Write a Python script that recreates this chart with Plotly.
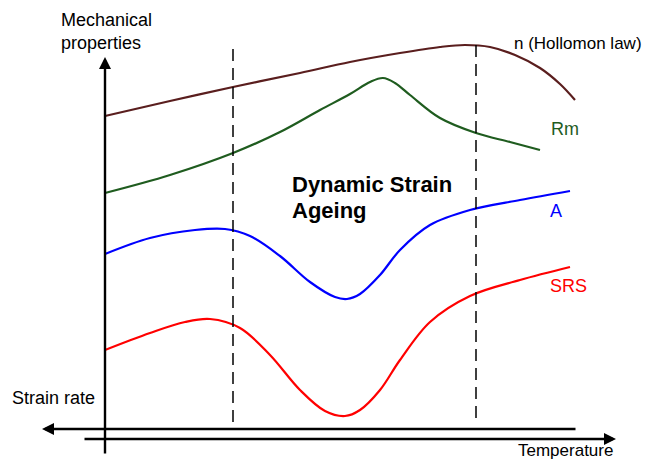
import plotly.graph_objects as go

# Schematic values (temperature position, property level)
n_x = [105, 170, 233, 300, 350, 400, 440, 465, 490, 515, 540, 560, 575]
n_y = [116, 101, 87, 73, 62, 53, 47, 45, 47, 55, 68, 84, 100]

rm_x = [105, 170, 233, 280, 320, 350, 370, 383, 395, 410, 440, 476, 510, 540]
rm_y = [193, 175, 153, 132, 110, 94, 82, 78, 83, 95, 118, 133, 142, 150]

a_x = [105, 150, 195, 225, 250, 280, 310, 335, 347, 360, 380, 400, 430, 470, 520, 570]
a_y = [254, 238, 230, 229, 236, 256, 282, 297, 299, 294, 275, 250, 225, 210, 200, 191]

srs_x = [105, 150, 185, 210, 240, 270, 300, 325, 345, 360, 380, 400, 430, 470, 520, 570]
srs_y = [350, 333, 322, 319, 328, 355, 390, 411, 416, 410, 390, 360, 322, 296, 280, 267]

dash_x = [233, 476]

fig = go.Figure()

line_w = 2.2
for xs, ys, col in [(n_x, n_y, "#5a1e1e"), (rm_x, rm_y, "#1f5c1f"),
                    (a_x, a_y, "#0000ff"), (srs_x, srs_y, "#ff0000")]:
    fig.add_trace(go.Scatter(x=xs, y=ys, mode="lines",
                             line=dict(color=col, width=line_w, shape="spline", smoothing=1.0),
                             hoverinfo="skip", showlegend=False))

# dashed boundaries of the DSA domain
fig.add_shape(type="line", x0=dash_x[0], x1=dash_x[0], y0=49, y1=428,
              line=dict(color="black", width=1.5, dash="12px,7px"))
fig.add_shape(type="line", x0=dash_x[1], x1=dash_x[1], y0=45, y1=420,
              line=dict(color="black", width=1.5, dash="12px,7px"))

# axes arrows
def arrow(x0, y0, x1, y1):
    fig.add_annotation(x=x1, y=y1, ax=x0, ay=y0, xref="x", yref="y", axref="x", ayref="y",
                       showarrow=True, arrowhead=2, arrowsize=1, arrowwidth=2.4,
                       arrowcolor="black", text="")

arrow(105, 455, 105, 57)
arrow(577, 429, 42, 429)
arrow(83, 439, 616, 439)

font = "Liberation Sans, Arial, sans-serif"
def label(x, y, text, color="black", size=18, bold=False):
    if bold:
        text = "<b>" + text + "</b>"
    fig.add_annotation(x=x, y=y, text=text, showarrow=False, xref="x", yref="y",
                       xanchor="left", yanchor="middle", align="left",
                       font=dict(family=font, size=size, color=color))

label(59, 20, "Mechanical")
label(59, 43, "properties")
label(10, 398, "Strain rate")
label(516, 450, "Temperature", size=17)
label(512, 43, "n (Hollomon law)", size=17)
label(549, 129, "Rm", color="#1f5c1f")
label(548, 211, "A", color="#0000ff")
label(548, 286, "SRS", color="#ff0000")
label(290, 184, "Dynamic Strain", size=22, bold=True)
label(290, 210, "Ageing", size=22, bold=True)

# the page body has an 8px margin: offset the ranges so units match picture pixels
fig.update_xaxes(range=[8, 661], visible=False, fixedrange=True)
fig.update_yaxes(range=[469, 8], visible=False, fixedrange=True)
fig.update_layout(width=653, height=461, margin=dict(l=0, r=0, t=0, b=0),
                  plot_bgcolor="white", paper_bgcolor="white")

fig.write_html("out.html")
